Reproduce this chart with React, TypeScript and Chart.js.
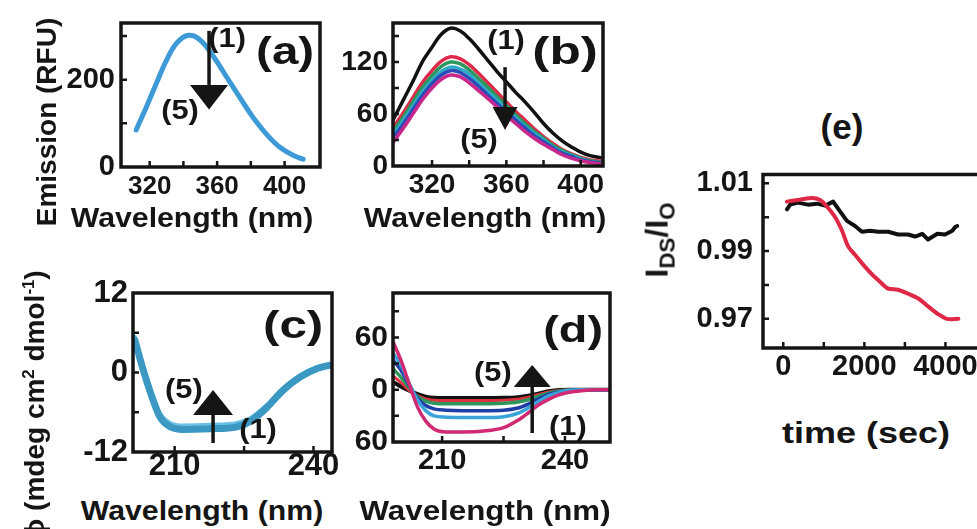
import React, { useEffect, useRef } from 'react';
import { Chart, registerables } from 'chart.js';

Chart.register(...registerables);

const FONT = "'Liberation Sans', Arial, Helvetica, sans-serif";
const INK = '#151515';
Chart.defaults.font.family = FONT;
Chart.defaults.color = INK;

// ---------- Panel (a): emission ----------
const aWavelength = [312, 318, 324, 330, 336, 343, 350, 358, 366, 374, 382, 390, 397, 405, 411];
const aEmission = [85, 137, 192, 245, 284, 302, 291, 252, 204, 156, 110, 72, 46, 27, 18];
const aXTicks = [320, 360, 400];
const aYTicks = [0, 200];

// ---------- Panel (b): emission, 6 spectra ----------
const bWavelength = [299, 305, 310, 315, 320, 325, 330, 335, 340, 345, 350, 355, 360, 365, 370, 375, 380, 385, 390, 395, 400, 405, 412];
const bBlack = [53, 78, 99, 121, 137, 152, 159, 156, 147, 135, 122, 109, 97, 85, 74, 62, 49, 38, 29, 22, 16, 12, 9];
const bRed = [44, 63, 80, 97, 110, 121, 126, 124, 117, 107, 96, 85, 74, 63, 53, 43, 34, 26, 19, 14, 10, 7, 5];
const bGreen = [40, 58, 75, 91, 104, 115, 120, 118, 111, 101, 91, 80, 70, 59, 49, 40, 32, 24, 18, 13, 9, 6, 4];
const bCyan = [36, 54, 70, 86, 99, 109, 114, 112, 106, 96, 86, 76, 66, 56, 46, 38, 30, 22, 16, 12, 8, 5, 3];
const bBlue = [32, 50, 66, 82, 95, 105, 110, 108, 101, 92, 82, 72, 62, 53, 44, 35, 28, 21, 15, 11, 7, 5, 3];
const bMagenta = [27, 45, 61, 77, 90, 100, 105, 103, 96, 87, 78, 68, 58, 49, 40, 32, 25, 19, 13, 9, 6, 4, 2];
const bXTicks = [320, 360, 400];
const bYTicks = [0, 60, 120];

// ---------- Panel (c): CD ----------
const cWavelength = [201.4, 203.2, 205.1, 206.8, 209, 211.8, 217.6, 223.5, 226.3, 229.9, 233.4, 237.1, 240.8, 243.6];
const cSeries1 = [4.9, 0.4, -3.7, -6.7, -8.2, -8.6, -8.5, -8.2, -7.4, -5.3, -2.7, -0.7, 0.6, 1.1];
const cSeries5 = [5.4, 0.9, -3.2, -6.1, -7.6, -8.0, -7.9, -7.6, -6.9, -4.9, -2.4, -0.4, 0.8, 1.3];
const cXTicks = [210, 240];
const cYTicks = [-12, 0, 12];

// ---------- Panel (d): CD, 6 spectra ----------
const dWavelength = [198, 200, 202, 204, 206, 208, 211, 215, 220, 225, 228.5, 231, 233.5, 236, 238.5, 241, 244, 248, 251];
const dBlack = [9, 3.5, -1, -5, -8, -9.3, -9.5, -9.5, -9.5, -9.3, -8.5, -7, -4.5, -1.8, -0.2, 0, 0, 0, 0];
const dRed = [16, 8, -1, -7, -10.5, -12, -12.5, -12.5, -12.5, -12.2, -11, -8.8, -5.5, -2.5, -0.8, 0, 0, 0, 0];
const dGreen = [24, 14, 2, -8, -13, -15.5, -16, -16, -16, -15.5, -14, -11.5, -7.5, -4, -1.5, -0.3, 0, 0, 0];
const dBlue = [34, 22, 5, -10, -18, -22, -23.5, -24, -24, -23.5, -21, -16.5, -10.5, -5.5, -2.5, -0.8, 0, 0, 0];
const dLightBlue = [42, 28, 7, -12, -24, -30, -31.5, -32, -32, -31, -27, -21, -13.5, -7, -3, -1, 0, 0, 0];
const dMagenta = [55, 33, 6, -20, -36, -45, -48.5, -48.5, -47.5, -43.5, -35, -26.7, -17.5, -11, -6, -3, -1.2, 0, 0];
const dXTicks = [210, 240];
const dYTicks = [-60, 0, 60];
const dYTickLabels = ['60', '0', '60'];

// ---------- Panel (e): kinetics ----------
const eBlackTime = [90, 170, 360, 610, 830, 1030, 1230, 1400, 1570, 1770, 1940, 2140, 2340, 2590, 2830, 3080, 3250, 3430, 3570, 3800, 3990, 4170, 4240, 4290];
const eBlackRatio = [1.0023, 1.0037, 1.0043, 1.0037, 1.004, 1.0034, 1.0046, 1.0017, 0.9989, 0.9974, 0.9957, 0.996, 0.9957, 0.9957, 0.9949, 0.9949, 0.9943, 0.9951, 0.9934, 0.9951, 0.9949, 0.996, 0.9971, 0.9974];
const eRedTime = [90, 360, 710, 910, 1080, 1280, 1450, 1600, 1770, 1970, 2190, 2390, 2590, 2830, 3080, 3330, 3570, 3820, 4040, 4320];
const eRedRatio = [1.0046, 1.0051, 1.0057, 1.0051, 1.0031, 1.0, 0.996, 0.9914, 0.9889, 0.986, 0.9831, 0.9809, 0.9789, 0.9786, 0.9774, 0.976, 0.9737, 0.9714, 0.97, 0.97];
const eXTicks = [0, 2000, 4000];
const eYTicks = [0.97, 0.99, 1.01];
const eYTickLabels = ['0.97', '0.99', '1.01'];

type Arrow = { x: number; from: number; base: number; tip: number; half: number; shaft: number };
type Note = { x: number; y: number; text: string; size: number; sx: number };
type AxisCfg = { min: number; max: number; ticks: number[]; labels?: string[]; marks: number[]; size: number; pad: number };
type PanelCfg = {
  canvas: { left: number; top: number; width: number; height: number };
  plot: { left: number; top: number; right: number; bottom: number };
  x: AxisCfg;
  y: AxisCfg;
  datasets: any[];
  arrows: Arrow[];
  notes: Note[];
};

const pts = (xs: number[], ys: number[]) => xs.map((x, i) => ({ x, y: ys[i] }));
const line = (xs: number[], ys: number[], color: string, width: number, tension = 0.4, monotone = false) => ({
  data: pts(xs, ys),
  borderColor: color,
  borderWidth: width,
  pointRadius: 0,
  fill: false,
  tension,
  cubicInterpolationMode: monotone ? 'monotone' : 'default',
  borderCapStyle: 'round',
  borderJoinStyle: 'round',
});

function makeDecor(cfg: PanelCfg) {
  return {
    id: 'decor',
    afterDraw(chart: any) {
      const { ctx, chartArea: a, scales } = chart;
      const xs = scales.x;
      const ys = scales.y;
      ctx.save();
      ctx.strokeStyle = INK;
      ctx.fillStyle = INK;
      ctx.lineWidth = 2.5;
      ctx.beginPath();
      cfg.x.marks.forEach((v) => {
        const p = xs.getPixelForValue(v);
        ctx.moveTo(p, a.bottom);
        ctx.lineTo(p, a.bottom - 6);
      });
      cfg.y.marks.forEach((v) => {
        const p = ys.getPixelForValue(v);
        ctx.moveTo(a.left, p);
        ctx.lineTo(a.left + 6, p);
      });
      ctx.stroke();
      ctx.lineWidth = 3.5;
      ctx.strokeRect(a.left, a.top, a.right - a.left, a.bottom - a.top);
      cfg.arrows.forEach((ar) => {
        const x = xs.getPixelForValue(ar.x);
        const y0 = ys.getPixelForValue(ar.from);
        const yb = ys.getPixelForValue(ar.base);
        const yt = ys.getPixelForValue(ar.tip);
        ctx.lineWidth = ar.shaft;
        ctx.lineCap = 'butt';
        ctx.beginPath();
        ctx.moveTo(x, y0);
        ctx.lineTo(x, yb);
        ctx.stroke();
        ctx.beginPath();
        ctx.moveTo(x - ar.half, yb);
        ctx.lineTo(x + ar.half, yb);
        ctx.lineTo(x, yt);
        ctx.closePath();
        ctx.fill();
      });
      cfg.notes.forEach((n) => {
        const x = xs.getPixelForValue(n.x);
        const y = ys.getPixelForValue(n.y);
        ctx.save();
        ctx.translate(x, y);
        ctx.scale(n.sx, 1);
        ctx.font = `bold ${n.size}px ${FONT}`;
        ctx.textAlign = 'center';
        ctx.textBaseline = 'middle';
        ctx.fillText(n.text, 0, 0);
        ctx.restore();
      });
      ctx.restore();
    },
  };
}

function axis(cfg: AxisCfg, fit: (s: any) => void) {
  return {
    type: 'linear',
    min: cfg.min,
    max: cfg.max,
    grid: { display: false, drawTicks: false },
    border: { display: false },
    ticks: {
      font: { size: cfg.size, weight: 'bold', lineHeight: 1 },
      color: INK,
      padding: cfg.pad,
      autoSkip: false,
      maxRotation: 0,
      callback: (v: number, i: number) => (cfg.labels ? cfg.labels[i] : String(v)),
    },
    afterBuildTicks: (s: any) => {
      s.ticks = cfg.ticks.map((v) => ({ value: v }));
    },
    afterFit: fit,
  };
}

function Panel({ cfg }: { cfg: PanelCfg }) {
  const ref = useRef<HTMLCanvasElement | null>(null);
  useEffect(() => {
    if (!ref.current) return;
    const { canvas: c, plot: p } = cfg;
    const chart = new Chart(ref.current, {
      type: 'line',
      data: { datasets: cfg.datasets },
      options: {
        animation: false,
        responsive: false,
        maintainAspectRatio: false,
        layout: { padding: { left: 0, bottom: 0, top: p.top - c.top, right: c.left + c.width - p.right } },
        plugins: { legend: { display: false }, tooltip: { enabled: false } },
        scales: {
          x: axis(cfg.x, (s: any) => {
            s.height = c.top + c.height - p.bottom;
          }),
          y: axis(cfg.y, (s: any) => {
            s.width = p.left - c.left;
          }),
        },
      } as any,
      plugins: [makeDecor(cfg)],
    } as any);
    return () => chart.destroy();
  }, [cfg]);
  const { canvas: c } = cfg;
  return (
    <canvas
      ref={ref}
      width={c.width}
      height={c.height}
      style={{ position: 'absolute', left: c.left, top: c.top, width: c.width, height: c.height }}
    />
  );
}

const panels: PanelCfg[] = [
  {
    canvas: { left: 50, top: 0, width: 290, height: 205 },
    plot: { left: 121, top: 23, right: 320, bottom: 167 },
    x: { min: 303, max: 421, ticks: aXTicks, marks: [320, 340, 360, 380, 400], size: 26, pad: 7 },
    y: { min: 0, max: 330, ticks: aYTicks, marks: [100, 200, 300], size: 29, pad: 6 },
    datasets: [line(aWavelength, aEmission, '#3d9ad6', 5)],
    arrows: [{ x: 355.2, from: 312, base: 188, tip: 132, half: 19, shaft: 3.5 }],
    notes: [
      { x: 365.9, y: 293, text: '(1)', size: 28, sx: 1.1 },
      { x: 338, y: 128, text: '(5)', size: 28, sx: 1.1 },
      { x: 400.3, y: 261, text: '(a)', size: 38, sx: 1.25 },
    ],
  },
  {
    canvas: { left: 330, top: 0, width: 290, height: 205 },
    plot: { left: 393, top: 23, right: 603, bottom: 166 },
    x: { min: 299, max: 412, ticks: bXTicks, marks: [320, 340, 360, 380, 400], size: 28, pad: 5 },
    y: { min: 0, max: 165, ticks: bYTicks, marks: [30, 60, 90, 120, 150], size: 28, pad: 5 },
    datasets: [
      line(bWavelength, bMagenta, '#c8288c', 3.5),
      line(bWavelength, bBlue, '#2a4cb8', 3.5),
      line(bWavelength, bCyan, '#2fa9c4', 3.5),
      line(bWavelength, bGreen, '#2e955c', 3.5),
      line(bWavelength, bRed, '#e0294a', 3.5),
      line(bWavelength, bBlack, '#111111', 3.5),
    ],
    arrows: [{ x: 359.3, from: 114, base: 68, tip: 41.5, half: 12.5, shaft: 3.5 }],
    notes: [
      { x: 359.8, y: 144, text: '(1)', size: 28, sx: 1.1 },
      { x: 345.3, y: 30, text: '(5)', size: 28, sx: 1.1 },
      { x: 391.6, y: 130, text: '(b)', size: 38, sx: 1.35 },
    ],
  },
  {
    canvas: { left: 60, top: 260, width: 290, height: 230 },
    plot: { left: 133, top: 293, right: 332, bottom: 452 },
    x: { min: 201, max: 244, ticks: cXTicks, marks: [210, 225, 240], size: 31, pad: -1 },
    y: { min: -12, max: 12, ticks: cYTicks, marks: [-6, 0, 6], size: 31, pad: 5 },
    datasets: [line(cWavelength, cSeries1, '#3a98c2', 7, 0.4, true), line(cWavelength, cSeries5, '#6cc0e6', 4, 0.4, true)],
    arrows: [{ x: 218.3, from: -10.64, base: -6.41, tip: -2.64, half: 20, shaft: 3.5 }],
    notes: [
      { x: 212, y: -2.64, text: '(5)', size: 28, sx: 1.1 },
      { x: 228, y: -8.68, text: '(1)', size: 28, sx: 1.1 },
      { x: 235.6, y: 6.72, text: '(c)', size: 38, sx: 1.3 },
    ],
  },
  {
    canvas: { left: 340, top: 260, width: 290, height: 230 },
    plot: { left: 393, top: 293, right: 610, bottom: 442 },
    x: { min: 198, max: 251, ticks: dXTicks, marks: [210, 225, 240], size: 29, pad: 4 },
    y: { min: -60, max: 111, ticks: dYTicks, labels: dYTickLabels, marks: [-30, 0, 30, 60, 90], size: 30, pad: 5 },
    datasets: [
      line(dWavelength, dMagenta, '#d02a72', 3.5, 0.4, true),
      line(dWavelength, dLightBlue, '#3aa4da', 3.5, 0.4, true),
      line(dWavelength, dBlue, '#1f3fa6', 3.5, 0.4, true),
      line(dWavelength, dGreen, '#2e955c', 3.5, 0.4, true),
      line(dWavelength, dRed, '#e0303f', 3, 0.4, true),
      line(dWavelength, dBlack, '#111111', 4, 0.4, true),
    ],
    arrows: [{ x: 232, from: -49.7, base: 3.1, tip: 28.4, half: 18.5, shaft: 3.5 }],
    notes: [
      { x: 222.4, y: 19.2, text: '(5)', size: 28, sx: 1.1 },
      { x: 240.7, y: -42.8, text: '(1)', size: 28, sx: 1.1 },
      { x: 242, y: 66.2, text: '(d)', size: 36, sx: 1.3 },
    ],
  },
  {
    canvas: { left: 660, top: 150, width: 340, height: 240 },
    plot: { left: 763, top: 169, right: 986, bottom: 348 },
    x: { min: -500, max: 5000, ticks: eXTicks, marks: [0, 1000, 2000, 3000, 4000], size: 29, pad: 4 },
    y: { min: 0.9614, max: 1.0126, ticks: eYTicks, labels: eYTickLabels, marks: [0.97, 0.98, 0.99, 1.0, 1.01], size: 29, pad: 10 },
    datasets: [line(eRedTime, eRedRatio, '#de2845', 4, 0.3), line(eBlackTime, eBlackRatio, '#111111', 4, 0)],
    arrows: [],
    notes: [],
  },
];

type Txt = { x: number; y: number; size: number; sx?: number; rot?: boolean; content: React.ReactNode };

const texts: Txt[] = [
  { x: 192, y: 218, size: 27, sx: 1.12, content: 'Wavelength (nm)' },
  { x: 485, y: 218, size: 27, sx: 1.12, content: 'Wavelength (nm)' },
  { x: 47, y: 122, size: 28, rot: true, content: 'Emission (RFU)' },
  { x: 202, y: 511, size: 27, sx: 1.12, content: 'Wavelength (nm)' },
  { x: 485, y: 511, size: 27, sx: 1.16, content: 'Wavelength (nm)' },
  {
    x: 35,
    y: 405,
    size: 28,
    rot: true,
    content: (
      <>
        ϕ (mdeg cm<sup style={{ fontSize: '0.6em' }}>2</sup> dmol<sup style={{ fontSize: '0.6em' }}>-1</sup>)
      </>
    ),
  },
  { x: 842, y: 126, size: 35, content: '(e)' },
  { x: 866, y: 433, size: 30, sx: 1.2, content: 'time (sec)' },
  {
    x: 660,
    y: 240,
    size: 32,
    rot: true,
    content: (
      <>
        I<sub style={{ fontSize: '0.7em' }}>DS</sub>/I<sub style={{ fontSize: '0.7em' }}>O</sub>
      </>
    ),
  },
];

export default function App() {
  return (
    <div
      style={{
        position: 'fixed',
        left: 0,
        top: 0,
        width: 977,
        height: 529,
        overflow: 'hidden',
        background: '#ffffff',
      }}
    >
      {panels.map((p, i) => (
        <Panel key={i} cfg={p} />
      ))}
      {texts.map((t, i) => (
        <div
          key={'t' + i}
          style={{
            position: 'absolute',
            left: t.x,
            top: t.y,
            transform: `translate(-50%, -50%) ${t.rot ? 'rotate(-90deg)' : ''} scaleX(${t.sx ?? 1})`,
            fontFamily: FONT,
            fontWeight: 'bold',
            fontSize: t.size,
            lineHeight: 1,
            whiteSpace: 'nowrap',
            color: INK,
          }}
        >
          {t.content}
        </div>
      ))}
    </div>
  );
}
